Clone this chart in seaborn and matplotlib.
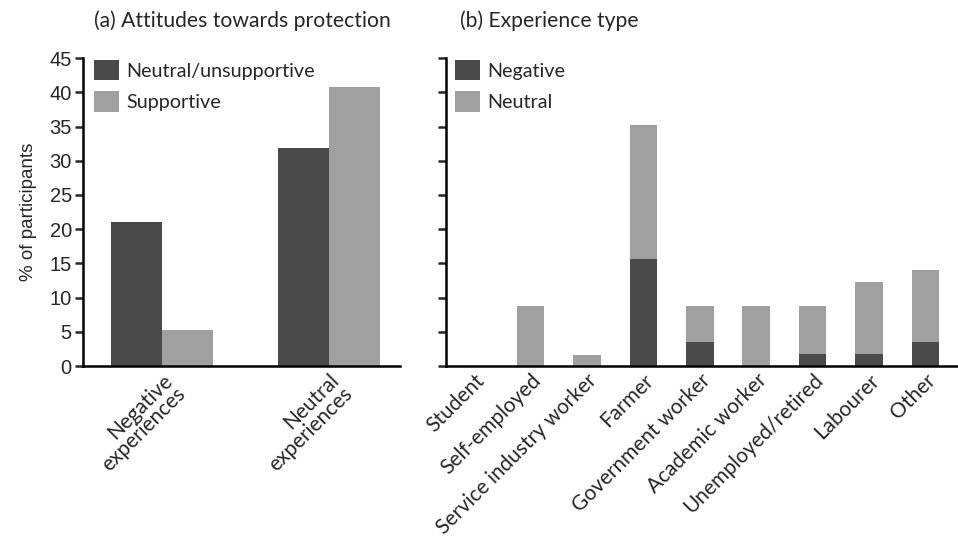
import matplotlib
matplotlib.use("Agg")
import matplotlib.pyplot as plt
import seaborn as sns
import pandas as pd

# panel (a)
exp_groups = ["Negative\nexperiences", "Neutral\nexperiences"]
unsupportive = [21.1, 31.8]
supportive = [5.3, 40.8]

# panel (b)
occupations = ["Student", "Self-employed", "Service industry worker", "Farmer",
               "Government worker", "Academic worker", "Unemployed/retired",
               "Labourer", "Other"]
negative = [0, 0, 0, 15.7, 3.5, 0, 1.7, 1.7, 3.5]
neutral = [0, 8.8, 1.6, 19.5, 5.3, 8.8, 7.1, 10.6, 10.5]

dark = "#4a4a4a"
light = "#a0a0a0"
txt_font = ["Lato", "DejaVu Sans"]

sns.set_style("white")
plt.rcParams["font.family"] = ["Liberation Sans", "DejaVu Sans"]

fig = plt.figure(figsize=(9.58, 5.45), dpi=100)
ax1 = fig.add_axes([0.0866, 0.3284, 0.331, 0.565])
ax2 = fig.add_axes([0.4656, 0.3284, 0.534, 0.565])

dfa = pd.DataFrame({
    "group": exp_groups * 2,
    "attitude": ["Neutral/unsupportive"] * 2 + ["Supportive"] * 2,
    "pct": unsupportive + supportive,
})
sns.barplot(data=dfa, x="group", y="pct", hue="attitude", ax=ax1,
            palette=[dark, light], width=0.61, saturation=1, linewidth=0)
ax1.set_xlim(-0.473, 1.425)

dfb = pd.DataFrame({"occ": occupations, "neg": negative,
                    "total": [a + b for a, b in zip(negative, neutral)]})
sns.barplot(data=dfb, x="occ", y="total", ax=ax2, color=light, width=0.49,
            saturation=1, linewidth=0, label="Neutral")
sns.barplot(data=dfb, x="occ", y="neg", ax=ax2, color=dark, width=0.49,
            saturation=1, linewidth=0, label="Negative")
ax2.set_xlim(-0.5, 8.57)

for ax in (ax1, ax2):
    ax.set_ylim(0, 45)
    ax.set_yticks(range(0, 50, 5))
    ax.set_xlabel("")
    ax.set_ylabel("")
    sns.despine(ax=ax)
    for s in ("left", "bottom"):
        ax.spines[s].set_linewidth(1.8)
        ax.spines[s].set_color("black")
    ax.tick_params(axis="y", direction="out", length=6, width=1.8, left=True,
                   labelsize=14.5, pad=2)
    ax.tick_params(axis="x", length=0, pad=3)

ax2.tick_params(axis="y", labelleft=False)

ax1.set_xticks(ax1.get_xticks())
ax1.set_xticklabels(exp_groups, rotation=45, ha="right", rotation_mode="anchor",
                    family=txt_font, fontsize=15, linespacing=0.95)
ax2.set_xticks(range(len(occupations)))
ax2.set_xticklabels(occupations, rotation=45, ha="right", rotation_mode="anchor",
                    family=txt_font, fontsize=15)

ax1.set_ylabel("% of participants", fontsize=13.5, labelpad=9)

fig.text(242 / 958, 1 - 21 / 545, "(a) Attitudes towards protection", family=txt_font,
         fontsize=15.2, ha="center", va="center")
fig.text(460 / 958, 1 - 21 / 545, "(b) Experience type",
         family=txt_font, fontsize=15.2, ha="left", va="center")

leg_kw = dict(loc="upper left", frameon=False, prop={"family": txt_font, "size": 14.2},
              handlelength=1.25, handleheight=1.25, handletextpad=0.35, labelspacing=0.55,
              borderaxespad=0.0, borderpad=0.0)
h1, l1 = ax1.get_legend_handles_labels()
ax1.legend(h1, l1, bbox_to_anchor=(0.036, 0.995), **leg_kw)
h2, l2 = ax2.get_legend_handles_labels()
ax2.legend(h2[::-1], l2[::-1], bbox_to_anchor=(0.018, 0.995), **leg_kw)

fig.savefig("out.png", dpi=100)
